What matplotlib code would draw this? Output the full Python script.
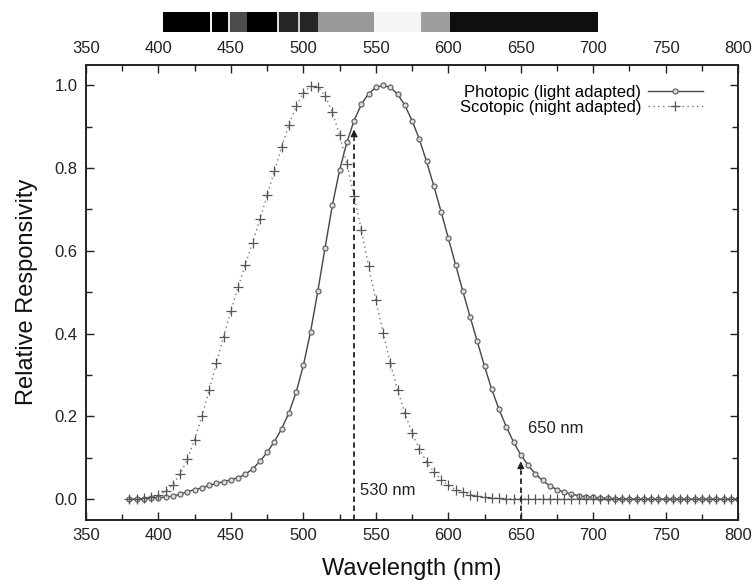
"""Photopic vs scotopic relative responsivity of the eye, with a grey spectrum strip on top."""
import matplotlib

matplotlib.use("Agg")
import matplotlib.pyplot as plt  # noqa: E402

plt.rcParams["font.family"] = ["Liberation Sans", "DejaVu Sans"]

# wavelength grid of the measured points (nm)
wavelength = [
    380, 385, 390, 395, 400, 405, 410, 415, 420, 425, 430, 435, 440, 445, 450,
    455, 460, 465, 470, 475, 480, 485, 490, 495, 500, 505, 510, 515, 520, 525,
    530, 535, 540, 545, 550, 555, 560, 565, 570, 575, 580, 585, 590, 595, 600,
    605, 610, 615, 620, 625, 630, 635, 640, 645, 650, 655, 660, 665, 670, 675,
    680, 685, 690, 695, 700, 705, 710, 715, 720, 725, 730, 735, 740, 745, 750,
    755, 760, 765, 770, 775, 780, 785, 790, 795, 800,
]

photopic = [
    0.000, 0.000, 0.001, 0.002, 0.003, 0.005, 0.007, 0.012, 0.018, 0.023,
    0.027, 0.033, 0.038, 0.042, 0.047, 0.052, 0.060, 0.073, 0.091, 0.113,
    0.139, 0.170, 0.208, 0.258, 0.323, 0.405, 0.503, 0.608, 0.710, 0.795,
    0.862, 0.915, 0.954, 0.980, 0.995, 1.000, 0.995, 0.979, 0.952, 0.915,
    0.870, 0.816, 0.757, 0.695, 0.631, 0.567, 0.503, 0.441, 0.381, 0.321,
    0.265, 0.217, 0.175, 0.138, 0.107, 0.082, 0.061, 0.045, 0.032, 0.023,
    0.017, 0.012, 0.008, 0.006, 0.004, 0.003, 0.002, 0.001, 0.001, 0.000,
    0.000, 0.000, 0.000, 0.000, 0.000, 0.000, 0.000, 0.000, 0.000, 0.000,
    0.000, 0.000, 0.000, 0.000, 0.000,
]

scotopic = [
    0.001, 0.001, 0.002, 0.005, 0.009, 0.019, 0.035, 0.060, 0.097, 0.144,
    0.200, 0.263, 0.328, 0.393, 0.455, 0.513, 0.567, 0.620, 0.676, 0.734,
    0.793, 0.851, 0.904, 0.949, 0.982, 0.998, 0.997, 0.975, 0.935, 0.880,
    0.811, 0.733, 0.650, 0.564, 0.481, 0.402, 0.329, 0.264, 0.208, 0.160,
    0.121, 0.090, 0.066, 0.047, 0.033, 0.023, 0.016, 0.011, 0.007, 0.005,
    0.003, 0.002, 0.001, 0.001, 0.001, 0.000, 0.000, 0.000, 0.000, 0.000,
    0.000, 0.000, 0.000, 0.000, 0.000, 0.000, 0.000, 0.000, 0.000, 0.000,
    0.000, 0.000, 0.000, 0.000, 0.000, 0.000, 0.000, 0.000, 0.000, 0.000,
    0.000, 0.000, 0.000, 0.000, 0.000,
]

# grey spectrum strip: band edges (nm) and grey level of each band
strip_edges = [403, 435.5, 437, 448, 449.5, 461, 482, 483.5, 496.5, 497.5,
               510, 549, 581, 601, 703]
strip_grey = [0.0, 0.95, 0.0, 0.9, 0.3, 0.0, 0.85, 0.15, 0.8, 0.15,
              0.6, 0.96, 0.62, 0.06]

# marked wavelengths: (x, tip height, label, label x, label y)
marks = [
    (535, 0.90, "530 nm", 539, 0.02),
    (650, 0.098, "650 nm", 655, 0.17),
]

XLIM = (350, 800)
YLIM = (-0.05, 1.05)

fig = plt.figure(figsize=(7.54, 5.88), dpi=100)
ax_l, ax_b, ax_w, ax_h = 0.114, 0.116, 0.865, 0.774
ax = fig.add_axes([ax_l, ax_b, ax_w, ax_h])

ax.plot(wavelength, photopic, color="#444444", lw=1.0, marker="o",
        ms=3.6, mfc="#dddddd", mec="#666666", mew=0.9,
        label="Photopic (light adapted)")
ax.plot(wavelength, scotopic, color="#777777", lw=1.0, ls=(0, (1, 2.5)),
        marker="+", ms=7, mec="#555555", mew=0.9,
        label="Scotopic (night adapted)")

for x, tip, text, tx, ty in marks:
    ax.plot([x, x], [YLIM[0], tip - 0.03], color="#222222", lw=1.3,
            ls=(0, (3, 2)))
    ax.annotate("", xy=(x, tip), xytext=(x, tip - 0.035),
                arrowprops=dict(arrowstyle="-|>", color="#222222",
                                lw=1.0, mutation_scale=10))
    ax.text(tx, ty, text, fontsize=12, color="#222222", va="center",
            ha="left")

ax.set_xlim(*XLIM)
ax.set_ylim(*YLIM)
ax.set_xticks(range(350, 801, 50))
ax.set_xticks(range(375, 800, 50), minor=True)
ax.set_yticks([0.0, 0.2, 0.4, 0.6, 0.8, 1.0])
ax.set_yticks([0.1, 0.3, 0.5, 0.7, 0.9], minor=True)
ax.yaxis.set_major_formatter(matplotlib.ticker.FormatStrFormatter("%.1f"))
ax.tick_params(which="both", direction="in", top=True, right=True,
               labeltop=True, labelsize=12, colors="#222222", pad=6)
ax.tick_params(which="major", length=6, width=1.0)
ax.tick_params(which="minor", length=4, width=1.0)
for s in ax.spines.values():
    s.set_linewidth(1.4)
    s.set_color("#222222")

ax.set_xlabel("Wavelength (nm)", fontsize=17, color="#111111", labelpad=11)
ax.set_ylabel("Relative Responsivity", fontsize=17, color="#111111",
              labelpad=12)

ax.legend(loc="upper right", bbox_to_anchor=(0.946, 0.955), frameon=False,
          markerfirst=False, fontsize=12, handlelength=3.3,
          handletextpad=0.4, labelspacing=0.0, borderpad=0,
          borderaxespad=0)

# spectrum strip above the plot, sharing the wavelength scale
cb = fig.add_axes([ax_l, 1 - 32 / 588, ax_w, 20 / 588])
cb.set_xlim(*XLIM)
cb.set_ylim(0, 1)
for lo, hi, g in zip(strip_edges[:-1], strip_edges[1:], strip_grey):
    cb.axvspan(lo, hi, color=str(g), lw=0)
cb.axis("off")

fig.savefig("out.png", dpi=100)
